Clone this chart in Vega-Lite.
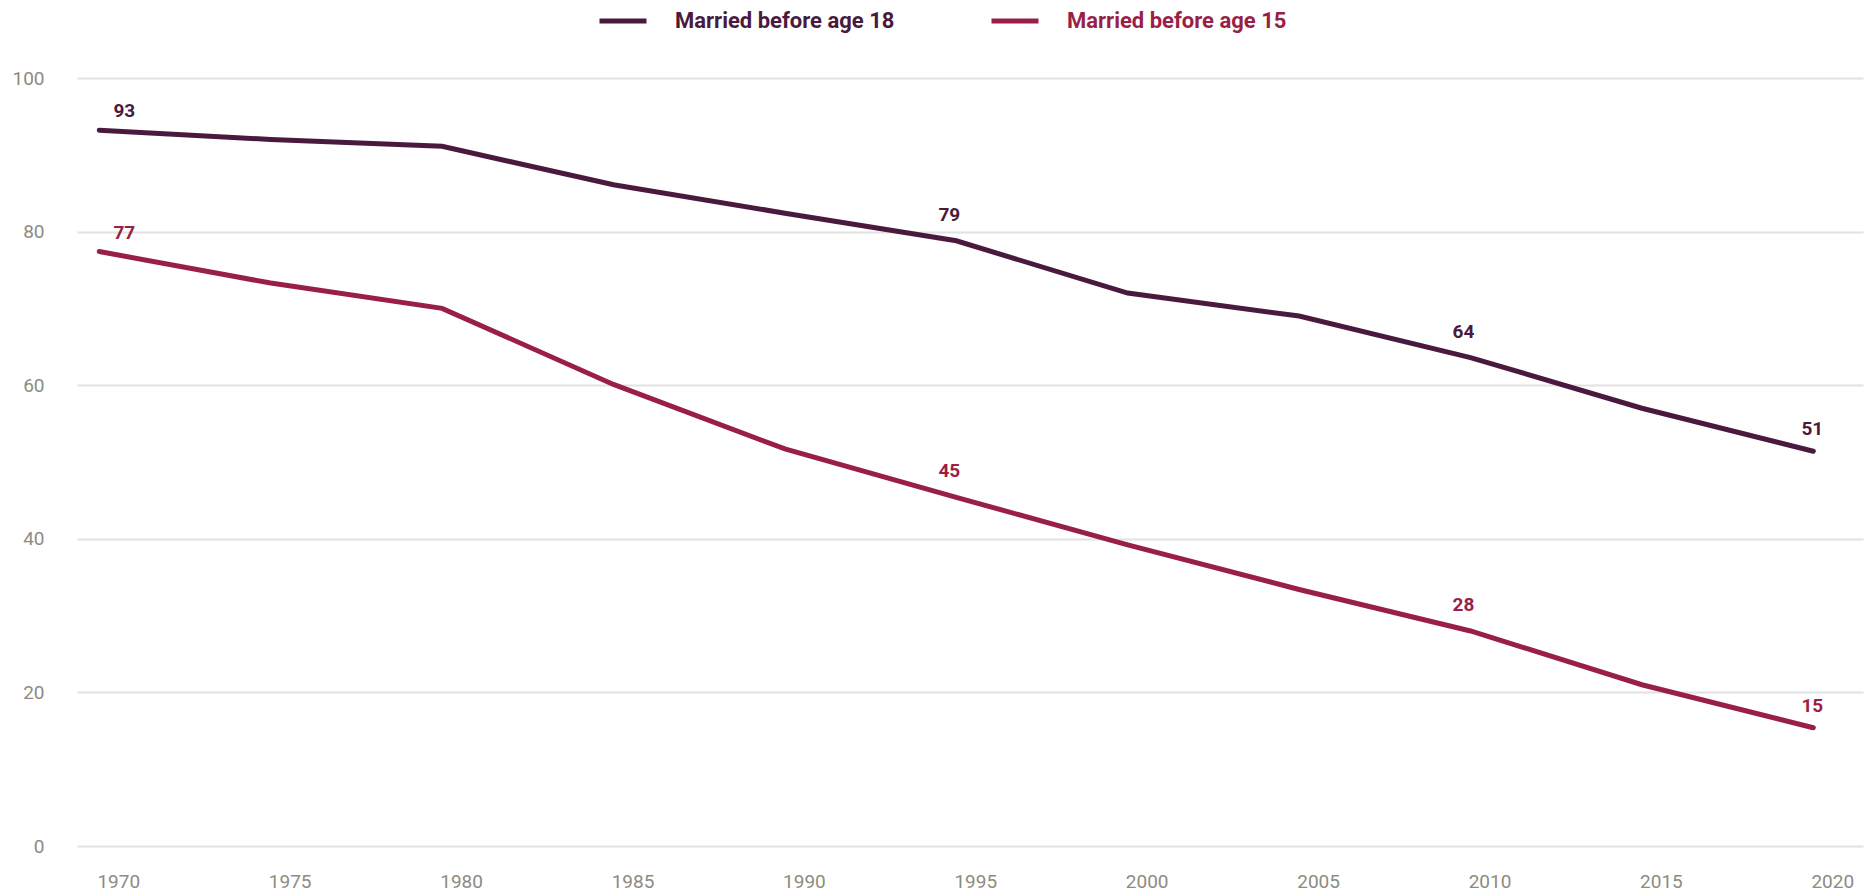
{
  "$schema": "https://vega.github.io/schema/vega-lite/v6.json",
  "width": 1786,
  "height": 768,
  "autosize": {"type": "none"},
  "padding": {"left": 77, "top": 78, "right": 7, "bottom": 49},
  "background": "white",
  "config": {
    "view": {"stroke": null},
    "font": "Roboto",
    "axis": {"labelFont": "Roboto", "labelFontSize": 19, "labelColor": "#8c8c80", "domain": false, "ticks": false, "title": null}
  },
  "data": {
    "values": [
      {"year": 1970, "series": "Married before age 18", "value": 93.2},
      {"year": 1975, "series": "Married before age 18", "value": 92.0},
      {"year": 1980, "series": "Married before age 18", "value": 91.1},
      {"year": 1985, "series": "Married before age 18", "value": 86.1},
      {"year": 1990, "series": "Married before age 18", "value": 82.4},
      {"year": 1995, "series": "Married before age 18", "value": 78.8},
      {"year": 2000, "series": "Married before age 18", "value": 72.0},
      {"year": 2005, "series": "Married before age 18", "value": 69.0},
      {"year": 2010, "series": "Married before age 18", "value": 63.6},
      {"year": 2015, "series": "Married before age 18", "value": 57.0},
      {"year": 2020, "series": "Married before age 18", "value": 51.4},
      {"year": 1970, "series": "Married before age 15", "value": 77.4},
      {"year": 1975, "series": "Married before age 15", "value": 73.3},
      {"year": 1980, "series": "Married before age 15", "value": 70.0},
      {"year": 1985, "series": "Married before age 15", "value": 60.1},
      {"year": 1990, "series": "Married before age 15", "value": 51.7},
      {"year": 1995, "series": "Married before age 15", "value": 45.4},
      {"year": 2000, "series": "Married before age 15", "value": 39.2},
      {"year": 2005, "series": "Married before age 15", "value": 33.4},
      {"year": 2010, "series": "Married before age 15", "value": 28.0},
      {"year": 2015, "series": "Married before age 15", "value": 21.0},
      {"year": 2020, "series": "Married before age 15", "value": 15.4}
    ]
  },
  "encoding": {
    "x": {
      "field": "year", "type": "quantitative",
      "scale": {"domain": [1969.35, 2021.45], "nice": false, "zero": false},
      "axis": {"values": [1970, 1975, 1980, 1985, 1990, 1995, 2000, 2005, 2010, 2015, 2020], "format": "d", "grid": false, "labelOffset": 19, "labelPadding": 26}
    },
    "y": {
      "field": "value", "type": "quantitative",
      "scale": {"domain": [0, 100], "nice": false},
      "axis": {"values": [0, 20, 40, 60, 80, 100], "grid": true, "gridColor": "#e2e2e2", "gridWidth": 2, "labelPadding": 33}
    },
    "color": {
      "field": "series", "type": "nominal",
      "scale": {"domain": ["Married before age 18", "Married before age 15"], "range": ["#4a1a3e", "#9a1f47"]},
      "legend": null
    }
  },
  "layer": [
    {
      "mark": {"type": "line", "strokeWidth": 5, "strokeCap": "round"},
      "encoding": {
        "color": {
          "field": "series", "type": "nominal",
          "scale": {"domain": ["Married before age 18", "Married before age 15"], "range": ["#4a1a3e", "#9a1f47"]},
          "legend": {
            "title": null, "orient": "none", "direction": "horizontal",
            "legendX": 520, "legendY": -83,
            "symbolType": "stroke", "symbolSize": 2209, "symbolStrokeWidth": 5,
            "labelFont": "Roboto", "labelFontSize": 22, "labelFontWeight": "bold", "labelLimit": 500,
            "labelOffset": 26, "columnPadding": 86,
            "labelColor": {"expr": "datum.label == 'Married before age 18' ? '#4a1a3e' : '#9a1f47'"}
          }
        }
      }
    },
    {
      "transform": [{"filter": "datum.year == 1970"}],
      "mark": {"type": "text", "font": "Roboto", "fontSize": 19, "fontWeight": "bold", "dx": 25, "dy": -19, "baseline": "middle"},
      "encoding": {"text": {"field": "value", "type": "quantitative", "format": ".0f"}}
    },
    {
      "transform": [{"filter": "datum.year == 1995 || datum.year == 2010"}],
      "mark": {"type": "text", "font": "Roboto", "fontSize": 19, "fontWeight": "bold", "dx": -7, "dy": -26, "baseline": "middle"},
      "encoding": {"text": {"field": "value", "type": "quantitative", "format": ".0f"}}
    },
    {
      "transform": [{"filter": "datum.year == 2020"}],
      "mark": {"type": "text", "font": "Roboto", "fontSize": 19, "fontWeight": "bold", "dx": -1, "dy": -22, "baseline": "middle"},
      "encoding": {"text": {"field": "value", "type": "quantitative", "format": ".0f"}}
    }
  ]
}
